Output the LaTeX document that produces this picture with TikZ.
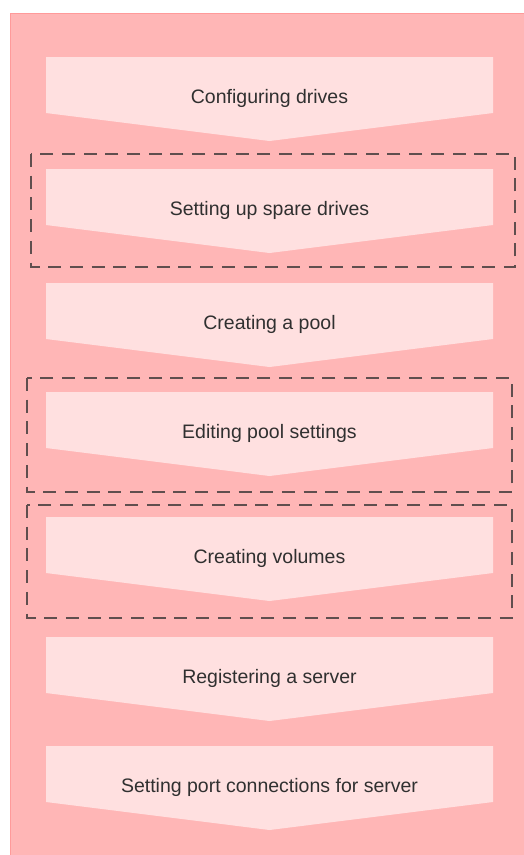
\documentclass[tikz,border=0pt]{standalone}
\usepackage{fontspec}
\setmainfont{Liberation Sans}

\definecolor{panelpink}{HTML}{FFB6B6}
\definecolor{paneledge}{HTML}{FF9A9A}
\definecolor{steppink}{HTML}{FFE0E0}
\definecolor{labelgray}{HTML}{303030}
\definecolor{optgray}{HTML}{604E4E}

\tikzset{
  steplabel/.style={text=labelgray, inner sep=0pt, font=\fontsize{19.5}{23}\selectfont},
  optbox/.style={draw=optgray, line width=2.5pt, dash pattern=on 13pt off 8.7pt},
}

% One chevron step: #1 name, #2 top edge, #3 label
\newcommand{\flowstep}[3]{%
  \fill[steppink] (46,#2) -- (493,#2) -- (493,#2+56) -- (269.5,#2+84)
    -- (46,#2+56) -- cycle;
  \node[steplabel] (#1) at (269.5,#2+41) {#3};
}

\begin{document}
\begin{tikzpicture}[x=1pt,y=-1pt]

% Page size, and the pink panel behind the steps
\clip (0,0) rectangle (524,855);
\draw[fill=panelpink, draw=paneledge, line width=1pt] (10,13) rectangle (540,870);

% The steps, top to bottom
\flowstep{drives}{57}{Configuring drives}
\flowstep{spare}{169}{Setting up spare drives}
\flowstep{pool}{283}{Creating a pool}
\flowstep{editpool}{392}{Editing pool settings}
\flowstep{volumes}{517}{Creating volumes}
\flowstep{server}{637}{Registering a server}
\flowstep{ports}{746}{Setting port connections for server}

% Optional steps are boxed with a dashed line
\draw[optbox] (31,154) rectangle (515,267);
\draw[optbox] (27,378) rectangle (512,492);
\draw[optbox] (27,505) rectangle (512,618);

\end{tikzpicture}
\end{document}
